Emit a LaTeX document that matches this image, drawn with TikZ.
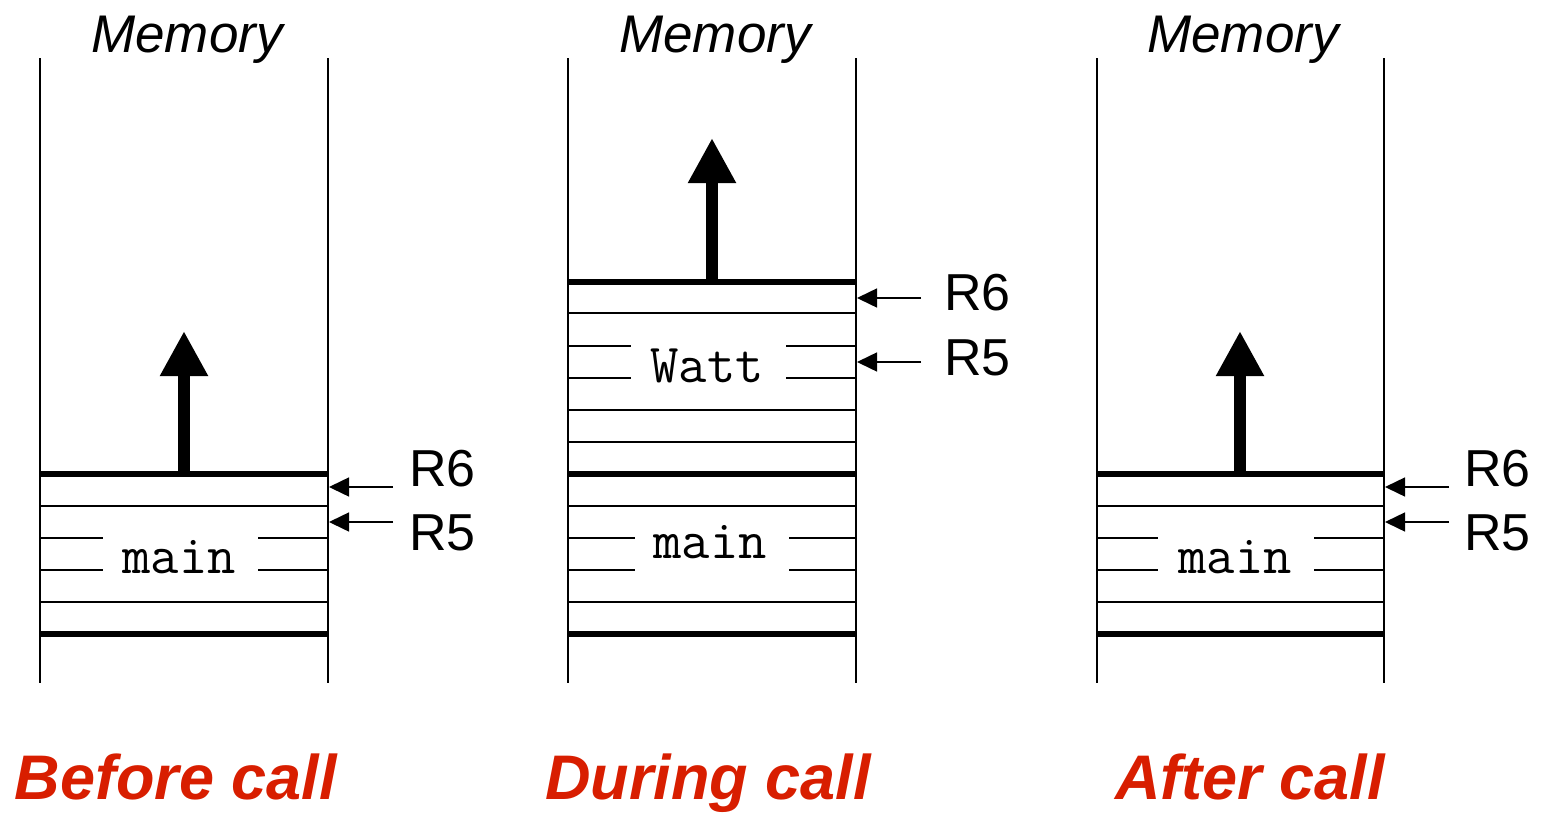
\documentclass[tikz,border=0pt]{standalone}
\usepackage{fontspec}
\setmainfont{Liberation Sans}
\usetikzlibrary{arrows.meta}
\definecolor{callred}{RGB}{216,30,0}
\tikzset{
  wall/.style={line width=1.5pt},
  slotline/.style={line width=1.5pt},
  frameline/.style={line width=6pt},
  growarrow/.style={line width=12pt,-{Triangle[width=45pt,length=45pt]}},
  ptr/.style={line width=1.5pt,-{Triangle[width=19pt,length=20pt]}},
  memlabel/.style={font=\fontsize{53}{60}\selectfont\itshape,anchor=base,inner sep=0pt},
  reglabel/.style={font=\fontsize{52}{60}\selectfont,anchor=base west,inner sep=0pt},
  framename/.style={font=\fontsize{55}{60}\ttfamily,anchor=base,inner sep=0pt},
  caption/.style={font=\fontsize{63}{70}\selectfont\bfseries\itshape,text=callred,anchor=base,inner sep=0pt},
}
\begin{document}
\begin{tikzpicture}[x=1pt,y=-1pt]
\useasboundingbox (0,0) rectangle (1543,814);
% ---------- Panel 1: Before call ----------
\node[memlabel] (mem1) at (187,52) {Memory};
\draw[wall] (40,58) -- (40,683);
\draw[wall] (328,58) -- (328,683);
\draw[frameline] (40,474) -- (328,474);
\draw[frameline] (40,634) -- (328,634);
\draw[slotline] (40,506) -- (328,506);
\draw[slotline] (40,602) -- (328,602);
\draw[slotline] (40,538) -- (103,538) (258,538) -- (328,538);
\draw[slotline] (40,570) -- (103,570) (258,570) -- (328,570);
\node[framename] (main1) at (179,573) {main};
\coordinate (g1a) at (184,474);
\coordinate (g1b) at (184,331);
\draw[growarrow] (g1a) -- (g1b);
\node[reglabel] (r6a) at (409,486) {R6};
\node[reglabel] (r5a) at (409,550) {R5};
\coordinate (r6at) at (393,487);
\coordinate (r6ah) at (329,487);
\coordinate (r5at) at (393,522);
\coordinate (r5ah) at (329,522);
\draw[ptr] (r6at) -- (r6ah);
\draw[ptr] (r5at) -- (r5ah);
\node[caption] (cap1) at (176,799) {Before call};
% ---------- Panel 2: During call ----------
\node[memlabel] (mem2) at (715,52) {Memory};
\draw[wall] (568,58) -- (568,683);
\draw[wall] (856,58) -- (856,683);
\draw[frameline] (568,282) -- (856,282);
\draw[frameline] (568,474) -- (856,474);
\draw[frameline] (568,634) -- (856,634);
\draw[slotline] (568,313) -- (856,313);
\draw[slotline] (568,410) -- (856,410);
\draw[slotline] (568,442) -- (856,442);
\draw[slotline] (568,506) -- (856,506);
\draw[slotline] (568,602) -- (856,602);
\draw[slotline] (568,346) -- (631,346) (786,346) -- (856,346);
\draw[slotline] (568,378) -- (631,378) (786,378) -- (856,378);
\draw[slotline] (568,538) -- (635,538) (789,538) -- (856,538);
\draw[slotline] (568,570) -- (635,570) (789,570) -- (856,570);
\node[framename] (watt2) at (707,382) {Watt};
\node[framename] (main2) at (710,558) {main};
\coordinate (g2a) at (712,282);
\coordinate (g2b) at (712,138);
\draw[growarrow] (g2a) -- (g2b);
\node[reglabel] (r6b) at (944,310) {R6};
\node[reglabel] (r5b) at (944,375) {R5};
\coordinate (r6bt) at (921,298);
\coordinate (r6bh) at (857,298);
\coordinate (r5bt) at (921,362);
\coordinate (r5bh) at (857,362);
\draw[ptr] (r6bt) -- (r6bh);
\draw[ptr] (r5bt) -- (r5bh);
\node[caption] (cap2) at (708,799) {During call};
% ---------- Panel 3: After call ----------
\node[memlabel] (mem3) at (1243,52) {Memory};
\draw[wall] (1097,58) -- (1097,683);
\draw[wall] (1384,58) -- (1384,683);
\draw[frameline] (1097,474) -- (1384,474);
\draw[frameline] (1097,634) -- (1384,634);
\draw[slotline] (1097,506) -- (1384,506);
\draw[slotline] (1097,602) -- (1384,602);
\draw[slotline] (1097,538) -- (1158,538) (1314,538) -- (1384,538);
\draw[slotline] (1097,570) -- (1158,570) (1314,570) -- (1384,570);
\node[framename] (main3) at (1235,573) {main};
\coordinate (g3a) at (1240,474);
\coordinate (g3b) at (1240,331);
\draw[growarrow] (g3a) -- (g3b);
\node[reglabel] (r6c) at (1464,486) {R6};
\node[reglabel] (r5c) at (1464,550) {R5};
\coordinate (r6ct) at (1449,487);
\coordinate (r6ch) at (1385,487);
\coordinate (r5ct) at (1449,522);
\coordinate (r5ch) at (1385,522);
\draw[ptr] (r6ct) -- (r6ch);
\draw[ptr] (r5ct) -- (r5ch);
\node[caption] (cap3) at (1250,799) {After call};
\end{tikzpicture}
\end{document}
